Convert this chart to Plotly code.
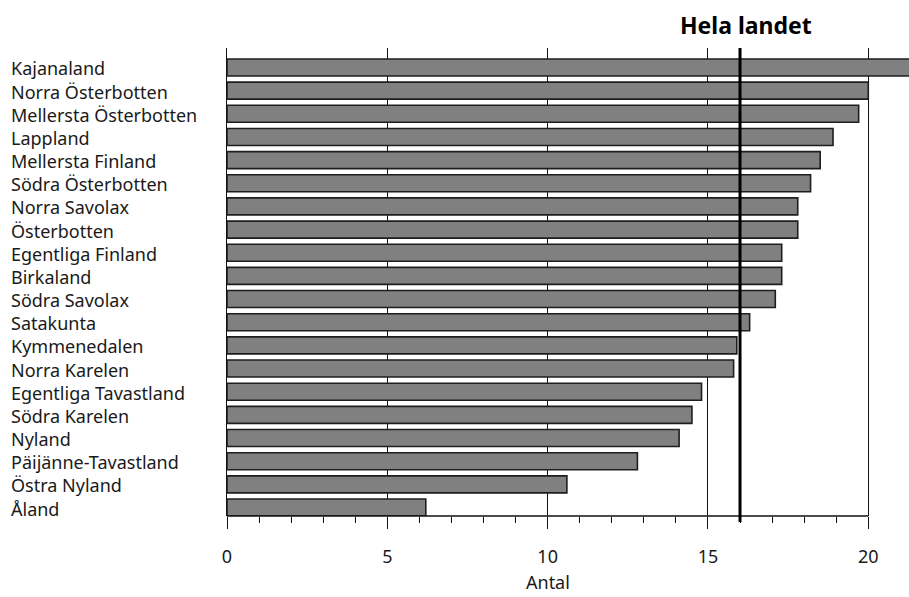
import plotly.graph_objects as go

regions = ["Kajanaland", "Norra Österbotten", "Mellersta Österbotten", "Lappland",
           "Mellersta Finland", "Södra Österbotten", "Norra Savolax", "Österbotten",
           "Egentliga Finland", "Birkaland", "Södra Savolax", "Satakunta",
           "Kymmenedalen", "Norra Karelen", "Egentliga Tavastland", "Södra Karelen",
           "Nyland", "Päijänne-Tavastland", "Östra Nyland", "Åland"]
values = [21.8, 20.0, 19.7, 18.9, 18.5, 18.2, 17.8, 17.8, 17.3, 17.3,
          17.1, 16.3, 15.9, 15.8, 14.8, 14.5, 14.1, 12.8, 10.6, 6.2]
national_label = "Hela landet"
national_value = 16.0
x_title = "Antal"
major_ticks = [0, 5, 10, 15, 20]
minor_ticks = [v for v in range(1, 20) if v % 5 != 0]

# bottom-to-top order for plotly
ys = list(reversed(regions))
xs = list(reversed(values))

FONT = "Noto Sans"
TXT = "#1a1a1a"
W, H = 909, 597
L, R, T, B = 227, 0, 48, 81

fig = go.Figure()
fig.add_trace(go.Bar(
    x=xs, y=ys, orientation="h",
    marker=dict(color="#808080", line=dict(color="#1e1e1e", width=1.6)),
    hoverinfo="x+y",
))

fig.update_layout(
    width=W, height=H,
    margin=dict(l=L, r=R, t=T, b=B),
    paper_bgcolor="white", plot_bgcolor="white",
    bargap=0.266,
    showlegend=False,
    font=dict(family=FONT, size=18, color=TXT),
)

fig.update_xaxes(
    range=[0, 21.27],
    tickmode="array", tickvals=major_ticks, ticktext=[str(v) for v in major_ticks],
    ticks="outside", ticklen=12, tickwidth=1.3, tickcolor="#111",
    showgrid=True, gridcolor="#111", gridwidth=1.2,
    showline=False, zeroline=False,
    tickfont=dict(family=FONT, size=18, color=TXT),
    ticklabelstandoff=12,
    minor=dict(tickmode="array", tickvals=minor_ticks, ticks="outside",
               ticklen=6, tickwidth=1.3, tickcolor="#111", showgrid=False),
)
fig.update_yaxes(
    type="category", categoryorder="array", categoryarray=ys,
    range=[-0.367, 19.84],
    showticklabels=False, ticks="",
    showgrid=False, zeroline=False,
    showline=True, linecolor="#111", linewidth=1.3,
)

# bottom axis line from 0 to 20
fig.add_shape(type="line", xref="x", yref="paper",
              x0=major_ticks[0], x1=major_ticks[-1], y0=0, y1=0,
              line=dict(color="#111", width=1.3))
# national average line
fig.add_shape(type="line", xref="x", yref="paper",
              x0=national_value, x1=national_value, y0=-0.013, y1=1,
              line=dict(color="#000", width=3))

fig.add_annotation(text="<b>" + national_label + "</b>", xref="x", yref="paper",
                   x=national_value, y=1, yanchor="bottom", xanchor="center",
                   xshift=6, yshift=5, showarrow=False,
                   font=dict(family=FONT, size=23, color="#000"))

fig.add_annotation(text=x_title, xref="x", yref="paper",
                   x=(major_ticks[0] + major_ticks[-1]) / 2, y=0,
                   yanchor="bottom", xanchor="center", yshift=-(B - 1), showarrow=False,
                   font=dict(family=FONT, size=18, color=TXT))

for name in ys:
    fig.add_annotation(text=name, xref="paper", yref="y",
                       x=(9 - L) / (W - L - R), y=name, xanchor="left", yanchor="middle",
                       yshift=-1, showarrow=False,
                       font=dict(family=FONT, size=18, color=TXT))

fig.write_html("out.html",
               config={"displayModeBar": False},
               post_script="document.body.style.margin='0';"
                           "document.body.style.overflow='hidden';")
